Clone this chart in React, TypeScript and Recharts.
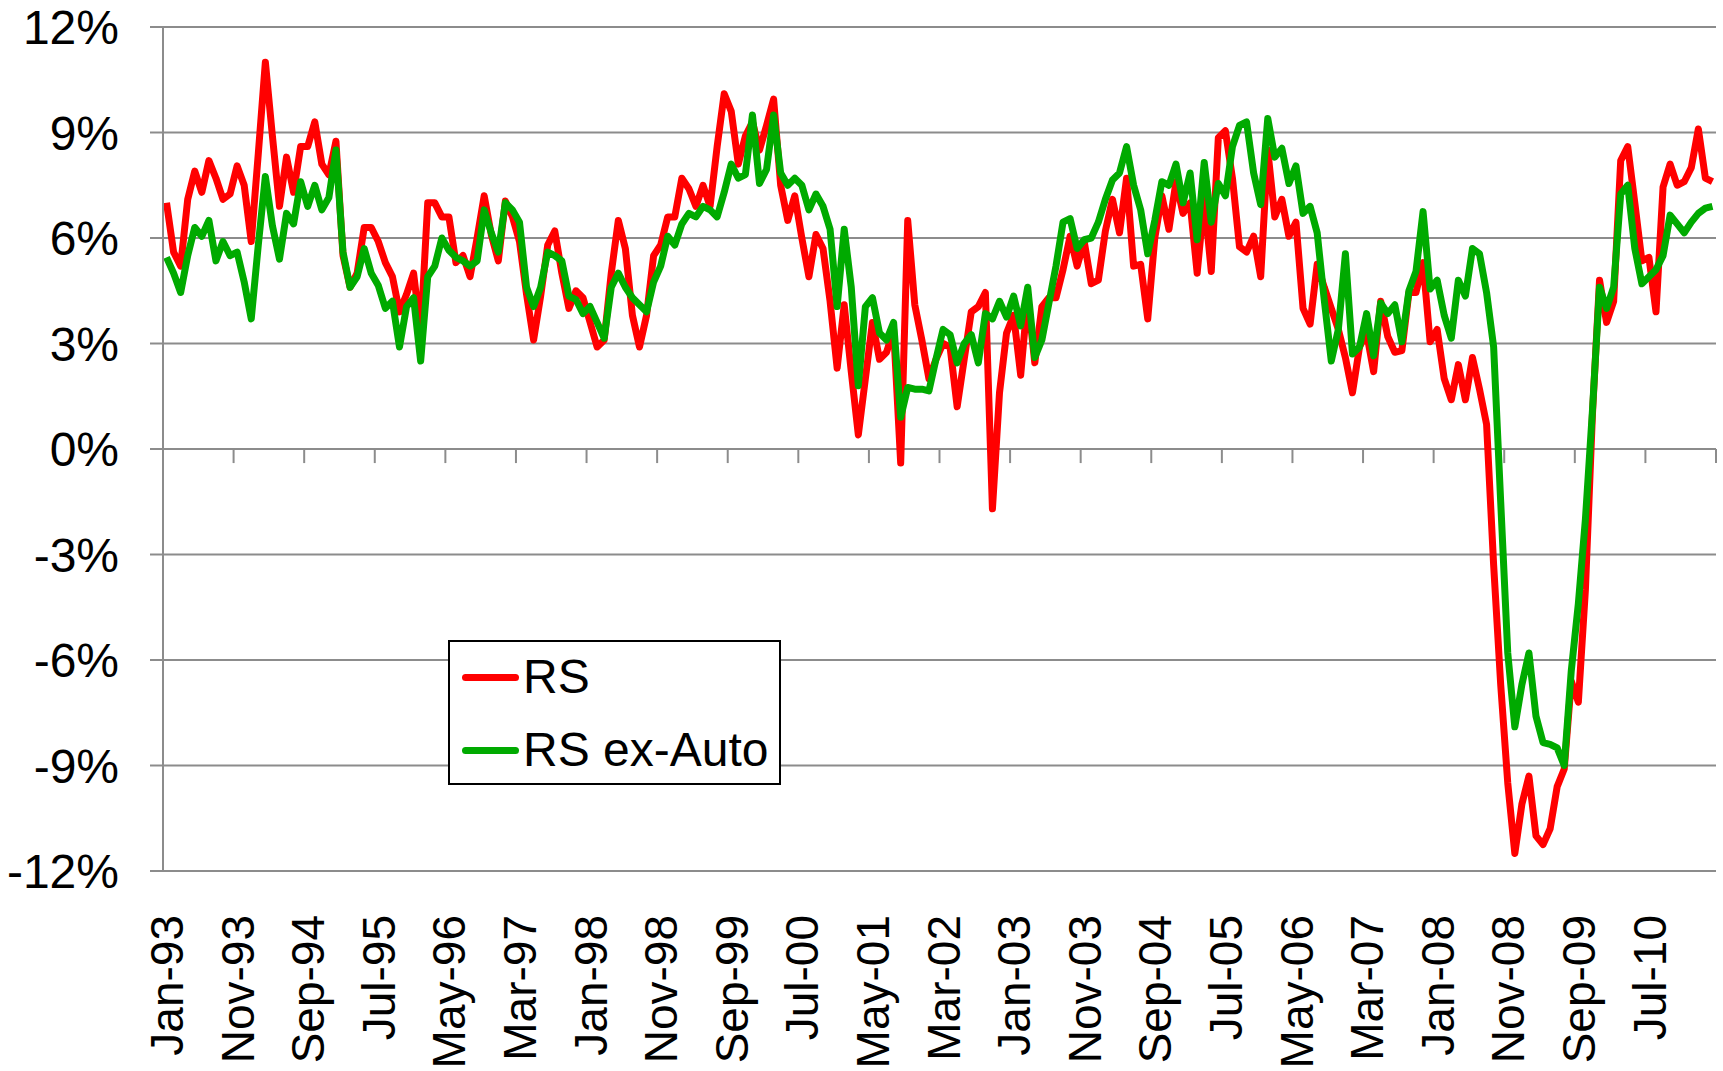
import React from 'react';
import {
  LineChart,
  Line,
  XAxis,
  YAxis,
  CartesianGrid,
  ReferenceLine,
  Legend,
} from 'recharts';

const FONT = '"Liberation Sans", Arial, sans-serif';
const GRID = '#8c8c8c';

// monthly, Jan-93 .. Apr-11; one label every 10 months
const tickLabels = [
  'Jan-93', 'Nov-93', 'Sep-94', 'Jul-95', 'May-96', 'Mar-97', 'Jan-98', 'Nov-98',
  'Sep-99', 'Jul-00', 'May-01', 'Mar-02', 'Jan-03', 'Nov-03', 'Sep-04', 'Jul-05',
  'May-06', 'Mar-07', 'Jan-08', 'Nov-08', 'Sep-09', 'Jul-10',
];

const rs = [
  7.0, 5.6, 5.2, 7.1, 7.9, 7.3, 8.2, 7.7, 7.1, 7.25,
  8.05, 7.5, 5.9, 8.4, 11.0, 8.9, 6.9, 8.3, 7.3, 8.6,
  8.6, 9.3, 8.1, 7.8, 8.75, 5.5, 4.6, 5.0, 6.3, 6.3,
  5.9, 5.3, 4.9, 3.9, 4.4, 5.0, 3.3, 7.0, 7.0, 6.6,
  6.6, 5.3, 5.5, 4.9, 6.0, 7.2, 6.1, 5.35, 7.05, 6.6,
  5.9, 4.4, 3.1, 4.35, 5.8, 6.2, 5.0, 4.0, 4.5, 4.3,
  3.6, 2.9, 3.1, 5.0, 6.5, 5.7, 3.8, 2.9, 3.8, 5.5,
  5.8, 6.6, 6.6, 7.7, 7.4, 6.9, 7.5, 6.9, 8.6, 10.1,
  9.6, 8.1, 8.9, 9.3, 8.5, 9.2, 9.95, 7.5, 6.5, 7.2,
  6.0, 4.9, 6.1, 5.7, 4.2, 2.3, 4.1, 2.2, 0.4, 2.0,
  3.6, 2.55, 2.75, 3.4, -0.4, 6.5, 4.1, 3.1, 2.0, 2.55,
  3.0, 2.9, 1.2, 2.55, 3.9, 4.05, 4.45, -1.7, 1.6, 3.3,
  3.8, 2.1, 4.35, 2.45, 4.05, 4.3, 4.3, 5.1, 6.05, 5.2,
  5.9, 4.7, 4.8, 6.2, 7.1, 6.15, 7.7, 5.2, 5.25, 3.7,
  6.0, 7.2, 6.25, 7.6, 6.7, 7.0, 5.0, 7.1, 5.05, 8.85,
  9.05, 7.7, 5.75, 5.6, 6.05, 4.9, 8.5, 6.6, 7.1, 6.05,
  6.45, 4.0, 3.55, 5.25, 4.6, 4.0, 3.4, 2.6, 1.6, 2.9,
  3.3, 2.2, 4.2, 3.2, 2.75, 2.8, 4.45, 4.45, 5.3, 3.05,
  3.4, 2.0, 1.4, 2.4, 1.4, 2.6, 1.7, 0.7, -3.3, -6.7,
  -9.5, -11.5, -10.1, -9.3, -11.0, -11.25, -10.8, -9.6, -9.1, -6.6,
  -7.2, -4.0, 1.0, 4.8, 3.6, 4.2, 8.2, 8.6, 7.0, 5.35,
  5.45, 3.9, 7.45, 8.1, 7.5, 7.6, 8.0, 9.1, 7.7, 7.6,
];

const rsExAuto = [
  5.45, 5.0, 4.45, 5.5, 6.3, 6.05, 6.5, 5.35, 5.9, 5.5,
  5.6, 4.75, 3.7, 5.8, 7.75, 6.35, 5.4, 6.7, 6.4, 7.6,
  6.9, 7.5, 6.8, 7.15, 8.5, 5.6, 4.6, 4.9, 5.7, 5.0,
  4.65, 4.0, 4.2, 2.9, 4.05, 4.3, 2.5, 4.9, 5.2, 6.0,
  5.65, 5.45, 5.35, 5.2, 5.35, 6.8, 6.15, 5.6, 7.0, 6.8,
  6.45, 4.6, 4.05, 4.6, 5.6, 5.5, 5.35, 4.35, 4.25, 3.85,
  4.05, 3.6, 3.15, 4.6, 5.0, 4.6, 4.3, 4.1, 3.9, 4.75,
  5.2, 6.05, 5.8, 6.4, 6.7, 6.6, 6.9, 6.8, 6.6, 7.3,
  8.1, 7.7, 7.8, 9.5, 7.55, 7.95, 9.5, 7.85, 7.5, 7.7,
  7.5, 6.8, 7.25, 6.9, 6.25, 4.05, 6.25, 4.6, 1.8, 4.05,
  4.3, 3.3, 3.1, 3.6, 0.9, 1.75, 1.7, 1.7, 1.65, 2.55,
  3.4, 3.25, 2.45, 3.0, 3.25, 2.45, 3.85, 3.7, 4.2, 3.75,
  4.35, 3.5, 4.6, 2.6, 3.1, 4.15, 5.2, 6.45, 6.55, 5.7,
  5.95, 6.0, 6.45, 7.1, 7.65, 7.85, 8.6, 7.5, 6.8, 5.55,
  6.5, 7.6, 7.5, 8.1, 7.0, 7.85, 5.95, 8.15, 6.45, 7.55,
  7.2, 8.6, 9.2, 9.3, 7.85, 6.95, 9.4, 8.3, 8.55, 7.55,
  8.05, 6.7, 6.9, 6.15, 4.25, 2.5, 3.4, 5.55, 2.7, 2.9,
  3.85, 2.65, 4.15, 3.85, 4.1, 3.05, 4.5, 5.05, 6.75, 4.55,
  4.8, 3.8, 3.15, 4.8, 4.35, 5.7, 5.55, 4.45, 2.9, -1.5,
  -5.8, -7.9, -6.7, -5.8, -7.6, -8.35, -8.4, -8.5, -9.0, -6.3,
  -4.4, -2.0, 1.1, 4.6, 4.0, 4.6, 7.25, 7.5, 5.7, 4.7,
  4.9, 5.1, 5.5, 6.65, 6.4, 6.15, 6.45, 6.7, 6.85, 6.9,
];

const yTicks = [-12, -9, -6, -3, 0, 3, 6, 9, 12];

const data = rs.map((v, i) => ({ i, rs: v, exAuto: rsExAuto[i] }));
const labelTicks = tickLabels.map((_, k) => k * 10);
// Excel puts the tick marks between categories
const tickMarks = tickLabels.map((_, k) => k * 10 + 9.5);

const XTick = (props: any) => {
  const { x, y, payload } = props;
  return (
    <text
      transform={`translate(${x},${y + 44}) rotate(-90)`}
      textAnchor="end"
      dy="0.36em"
      fontSize={46}
      fill="#000"
      fontFamily={FONT}
    >
      {tickLabels[Math.round(payload.value / 10)]}
    </text>
  );
};

const legendItems = [
  { name: 'RS', color: '#ff0000' },
  { name: 'RS ex-Auto', color: '#00aa00' },
];

const LegendBox = () => (
  <div
    style={{
      position: 'relative',
      width: 329,
      height: 141,
      border: '2px solid #000',
      background: '#fff',
      fontFamily: FONT,
    }}
  >
    {legendItems.map((it, k) => (
      <div key={it.name}>
        <div
          style={{
            position: 'absolute',
            left: 12,
            top: 32 + k * 73,
            width: 57,
            height: 7,
            borderRadius: 4,
            background: it.color,
          }}
        />
        <div
          style={{
            position: 'absolute',
            left: 73,
            top: 11 + k * 73,
            fontSize: 48,
            lineHeight: '48px',
            color: '#000',
            whiteSpace: 'nowrap',
          }}
        >
          {it.name}
        </div>
      </div>
    ))}
  </div>
);

export default function App() {
  return (
    <div style={{ position: 'absolute', left: 0, top: 0, background: '#fff' }}>
      <LineChart
        width={1723}
        height={1071}
        data={data}
        margin={{ top: 27, right: 7, left: 0, bottom: 0 }}
      >
        <CartesianGrid vertical={false} stroke={GRID} strokeWidth={2} />
        <XAxis
          dataKey="i"
          type="number"
          domain={[-0.5, 219.5]}
          ticks={labelTicks}
          interval={0}
          height={200}
          axisLine={false}
          tickLine={false}
          tickSize={0}
          tickMargin={0}
          tick={<XTick />}
        />
        <YAxis
          type="number"
          domain={[-12, 12]}
          ticks={yTicks}
          interval={0}
          width={163}
          tickFormatter={(v) => `${v}%`}
          axisLine={{ stroke: GRID, strokeWidth: 2 }}
          tickLine={{ stroke: GRID, strokeWidth: 2 }}
          tickSize={13}
          tickMargin={31}
          tick={{ fontSize: 48, fill: '#000', fontFamily: FONT }}
        />
        {tickMarks.map((b) => (
          <ReferenceLine
            key={b}
            segment={[
              { x: b, y: 0 },
              { x: b, y: -0.4 },
            ]}
            stroke={GRID}
            strokeWidth={2}
          />
        ))}
        <Legend
          layout="vertical"
          align="center"
          verticalAlign="middle"
          wrapperStyle={{ left: 448, top: 640, width: 333, height: 145 }}
          content={<LegendBox />}
        />
        <Line
          type="linear"
          dataKey="rs"
          name="RS"
          stroke="#ff0000"
          strokeWidth={7}
          strokeLinejoin="round"
          dot={false}
          isAnimationActive={false}
        />
        <Line
          type="linear"
          dataKey="exAuto"
          name="RS ex-Auto"
          stroke="#00aa00"
          strokeWidth={7}
          strokeLinejoin="round"
          dot={false}
          isAnimationActive={false}
        />
      </LineChart>
    </div>
  );
}
